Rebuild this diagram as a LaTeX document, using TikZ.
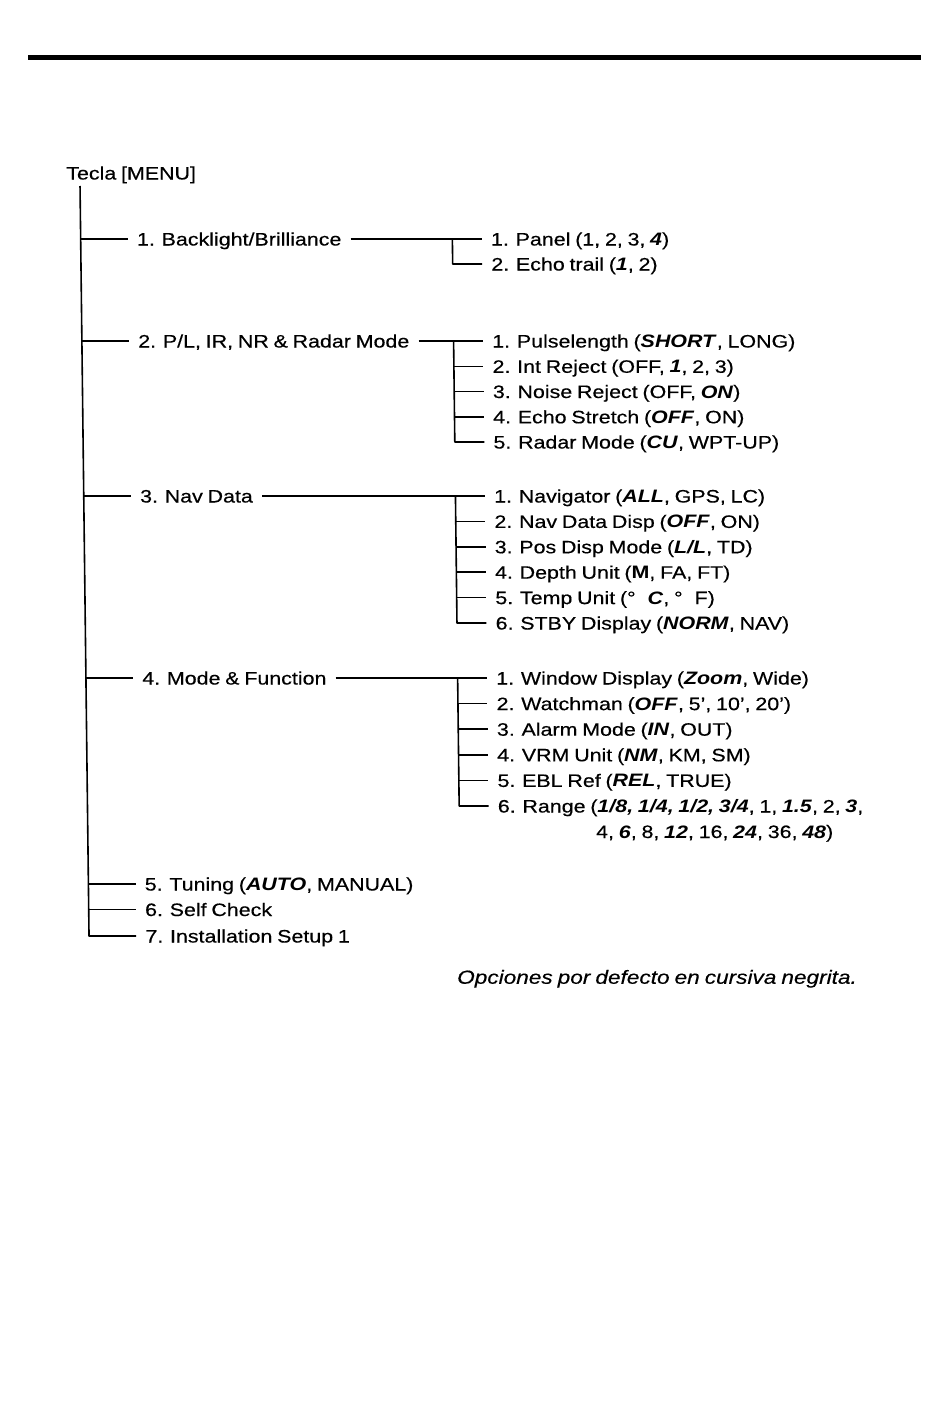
\documentclass[tikz,border=0pt]{standalone}
\usepackage{fontspec}
\setmainfont{Liberation Sans}[FakeStretch=1.19, WordSpace=0.8,
    UprightFeatures={FakeBold=0.4}, ItalicFeatures={FakeBold=0.4}]
\newcommand{\bi}[1]{\textbf{\textit{#1}}}

\begin{document}
\begin{tikzpicture}[x=1pt, y=-1pt, line join=round,
    tree/.style={line width=1.6pt, black},
    entry/.style={anchor=west, inner xsep=9pt, inner ysep=0pt, text height=13pt, text depth=0pt,
                  font=\fontsize{18}{20}\selectfont}]
    \useasboundingbox (0,0) rectangle (950,1407);
    \draw[line width=5pt] (28,58) -- (921,58);

    % the scan is a little skewed, so the tree leans with it
    \begin{scope}[xslant=-0.012]
    \node[entry, inner xsep=0pt] (menu) at (64,173) {Tecla [MENU]};
    \coordinate (Top) at (77.8,186);
    \coordinate (Bot) at (77.8,936);

    \coordinate (J1) at (77.8,239);
    \coordinate (J2) at (77.8,341);
    \coordinate (J3) at (77.8,496);
    \coordinate (J4) at (77.8,678);
    \coordinate (J5) at (77.8,884);
    \coordinate (J6) at (77.8,909.5);

    \node[entry] (m1) at (125,239) {1. Backlight/Brilliance};
    \node[entry] (m2) at (125,341) {2. P/L, IR, NR \& Radar Mode};
    \node[entry] (m3) at (125,496) {3. Nav Data};
    \node[entry] (m4) at (125,678) {4. Mode \& Function};
    \node[entry] (m5) at (125,884) {5. Tuning (\bi{AUTO}, MANUAL)};
    \node[entry] (m6) at (125,909.5) {6. Self Check};
    \node[entry] (m7) at (125,936) {7. Installation Setup 1};

    % hubs
    \coordinate (H1) at (449.5,239);
    \coordinate (E1) at (449.5,264);
    \coordinate (H2) at (449.5,341);
    \coordinate (E2) at (449.5,442);
    \coordinate (H3) at (449.5,496);
    \coordinate (E3) at (449.5,623);
    \coordinate (H4) at (449.5,678);
    \coordinate (E4) at (449.5,806);

    \node[entry] (s11) at (479,239) {1. Panel (1, 2, 3, \bi{4})};
    \node[entry] (s12) at (479,264) {2. Echo trail (\bi{1}, 2)};

    \node[entry] (s21) at (479,341) {1. Pulselength (\bi{SHORT}, LONG)};
    \node[entry] (s22) at (479,366.3) {2. Int Reject (OFF, \bi{1}, 2, 3)};
    \node[entry] (s23) at (479,391.5) {3. Noise Reject (OFF, \bi{ON})};
    \node[entry] (s24) at (479,416.8) {4. Echo Stretch (\bi{OFF}, ON)};
    \node[entry] (s25) at (479,442) {5. Radar Mode (\bi{CU}, WPT-UP)};

    \node[entry] (s31) at (479,496) {1. Navigator (\bi{ALL}, GPS, LC)};
    \node[entry] (s32) at (479,521.4) {2. Nav Data Disp (\bi{OFF}, ON)};
    \node[entry] (s33) at (479,546.8) {3. Pos Disp Mode (\bi{L/L}, TD)};
    \node[entry] (s34) at (479,572.2) {4. Depth Unit (\textbf{M}, FA, FT)};
    \node[entry] (s35) at (479,597.6) {5. Temp Unit (°\hspace{12pt}\bi{C}, °\hspace{12pt}F)};
    \node[entry] (s36) at (479,623) {6. STBY Display (\bi{NORM}, NAV)};

    \node[entry] (s41) at (479,678) {1. Window Display (\bi{Zoom}, Wide)};
    \node[entry] (s42) at (479,703.6) {2. Watchman (\bi{OFF}, 5', 10', 20')};
    \node[entry] (s43) at (479,729.2) {3. Alarm Mode (\bi{IN}, OUT)};
    \node[entry] (s44) at (479,754.8) {4. VRM Unit (\bi{NM}, KM, SM)};
    \node[entry] (s45) at (479,780.4) {5. EBL Ref (\bi{REL}, TRUE)};
    \node[entry] (s46) at (479,806) {6. Range (\bi{1/8, 1/4, 1/2, 3/4}, 1, \bi{1.5}, 2, \bi{3},};
    \node[entry] (s46b) at (577,831.5) {4, \bi{6}, 8, \bi{12}, 16, \bi{24}, 36, \bi{48})};

    % trunk and main branches
    \draw[tree] (Top) -- (Bot) -- (m7.west);
    \foreach \n in {1,...,6}
        \draw[tree] (J\n) -- (m\n.west);

    % sub branches
    \draw[tree] (m1.east) -- (s11.west);
    \draw[tree] (H1) -- (E1) -- (s12.west);

    \draw[tree] (m2.east) -- (s21.west);
    \draw[tree] (H2) -- (E2) -- (s25.west);
    \foreach \n in {2,3,4}
        \draw[tree] (s2\n.west -| H2) -- (s2\n.west);

    \draw[tree] (m3.east) -- (s31.west);
    \draw[tree] (H3) -- (E3) -- (s36.west);
    \foreach \n in {2,...,5}
        \draw[tree] (s3\n.west -| H3) -- (s3\n.west);

    \draw[tree] (m4.east) -- (s41.west);
    \draw[tree] (H4) -- (E4) -- (s46.west);
    \foreach \n in {2,...,5}
        \draw[tree] (s4\n.west -| H4) -- (s4\n.west);
    \end{scope}

    \node[anchor=west, inner sep=0pt, text height=13.5pt, text depth=0pt,
          font=\fontsize{19}{21}\selectfont\itshape] (note) at (457,977)
          {Opciones por defecto en cursiva negrita.};
\end{tikzpicture}
\end{document}
